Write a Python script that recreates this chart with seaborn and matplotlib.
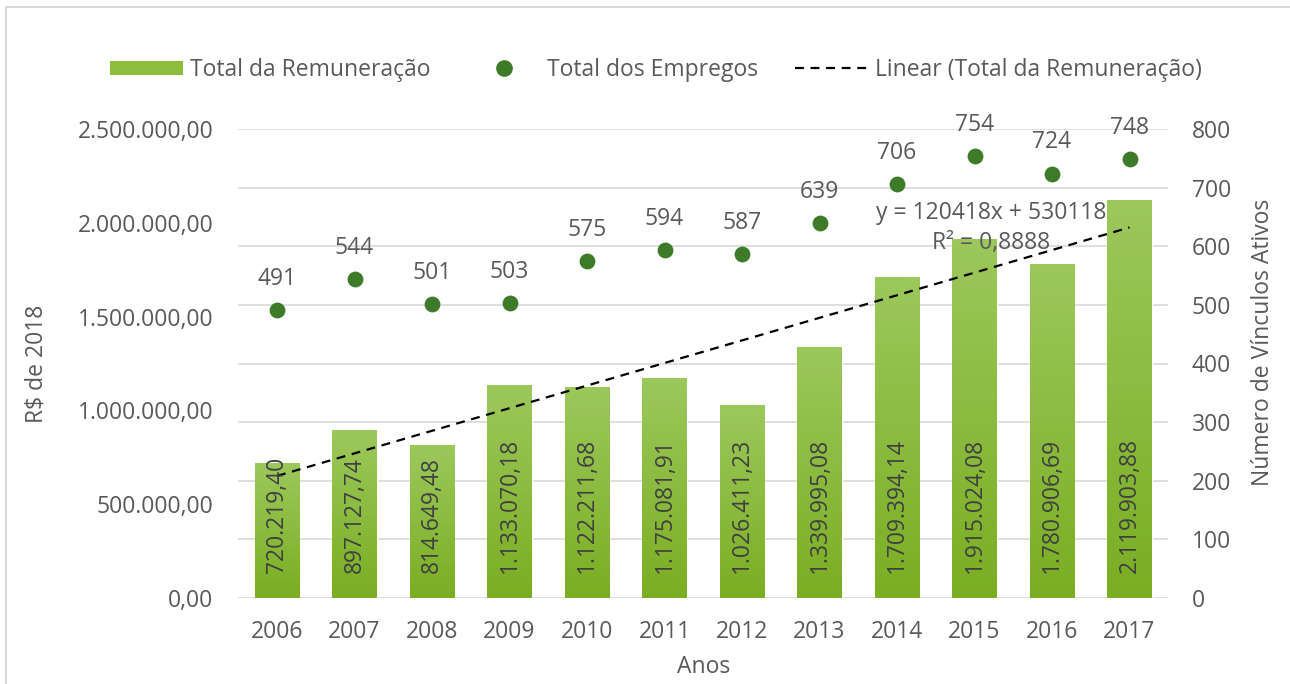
import numpy as np
import pandas as pd
import matplotlib
matplotlib.use("Agg")
import matplotlib.pyplot as plt
from matplotlib.ticker import MultipleLocator, FuncFormatter
from matplotlib.lines import Line2D
from matplotlib.patches import Patch
from matplotlib.colors import LinearSegmentedColormap
import seaborn as sns

# ---- data ----
anos = ["2006", "2007", "2008", "2009", "2010", "2011", "2012", "2013", "2014", "2015", "2016", "2017"]
remuneracao = [720219.40, 897127.74, 814649.48, 1133070.18, 1122211.68, 1175081.91,
               1026411.23, 1339995.08, 1709394.14, 1915024.08, 1780906.69, 2119903.88]
empregos = [491, 544, 501, 503, 575, 594, 587, 639, 706, 754, 724, 748]
remun_labels = ["720.219,40", "897.127,74", "814.649,48", "1.133.070,18", "1.122.211,68",
                "1.175.081,91", "1.026.411,23", "1.339.995,08", "1.709.394,14",
                "1.915.024,08", "1.780.906,69", "2.119.903,88"]
equation_text = "y = 120418x + 530118\nR² = 0,8888"

sns.set_theme(style="white")
plt.rcParams["font.family"] = ["Open Sans", "DejaVu Sans"]

TXT = "#595959"
GRID = "#d9d9d9"
BAR_TOP = "#9cc85c"
BAR_BOT = "#7aae22"
DOT = "#3d7b29"
FS = 16.5

df = pd.DataFrame({"Ano": anos, "Remuneracao": remuneracao, "Empregos": empregos})

fig = plt.figure(figsize=(12.9, 6.84), dpi=100)
W, H = 1290, 684
ax_l, ax_r, ax_t, ax_b = 238.25, 1168.25, 129, 598
ax = fig.add_axes([ax_l / W, (H - ax_b) / H, (ax_r - ax_l) / W, (ax_b - ax_t) / H])

sns.barplot(data=df, x="Ano", y="Remuneracao", color=BAR_BOT, saturation=1,
            width=0.58, ax=ax, zorder=2)

# gradient fill of the bars
cmap = LinearSegmentedColormap.from_list("g", [BAR_BOT, BAR_TOP])
grad = np.linspace(0, 1, 256).reshape(-1, 1)
for p in list(ax.patches):
    x0, y0 = p.get_x(), p.get_y()
    w, h = p.get_width(), p.get_height()
    im = ax.imshow(grad, extent=[x0, x0 + w, y0, y0 + h], origin="lower",
                   aspect="auto", cmap=cmap, zorder=2.1, interpolation="bilinear")
    im.set_clip_path(p)

ax.set_xlim(-0.5, len(anos) - 0.5)
ax.set_ylim(0, 2500000)
ax.yaxis.set_major_locator(MultipleLocator(500000))
ax.yaxis.set_minor_locator(MultipleLocator(312500))
ax.yaxis.remove_overlapping_locs = False
ax.yaxis.set_major_formatter(FuncFormatter(
    lambda v, _: f"{v:,.2f}".replace(",", "X").replace(".", ",").replace("X", ".")))
ax.grid(which="minor", axis="y", color=GRID, linewidth=1.2, zorder=0)
ax.grid(which="major", axis="y", visible=False)
ax.set_axisbelow(True)
for s in ax.spines.values():
    s.set_visible(False)
ax.tick_params(axis="both", which="both", length=0, labelsize=FS, colors=TXT)
ax.tick_params(axis="y", pad=18)
ax.tick_params(axis="x", pad=15.5)

# bar value labels
for i, lab in enumerate(remun_labels):
    ax.annotate(lab, xy=(i, 0), xytext=(0, 18), textcoords="offset points",
                rotation=90, ha="center", va="bottom", fontsize=FS, color="#404040",
                zorder=5)

# linear trend
xs = np.arange(1, len(anos) + 1)
slope, intercept = np.polyfit(xs, remuneracao, 1)
ax.plot(np.arange(len(anos)), slope * xs + intercept, color="black",
        linestyle=(0, (4, 3)), linewidth=1.6, zorder=4)
ax.text(9.21, 1972000, equation_text, ha="center", va="center", multialignment="center",
        fontsize=FS, color=TXT, linespacing=1.3, zorder=5)

ax.set_xlabel("Anos", fontsize=FS, color=TXT)
ax.set_ylabel("R$ de 2018", fontsize=FS, color=TXT)
ax.xaxis.set_label_coords(0.5, -0.122)
ax.yaxis.set_label_coords(-0.204, 0.5)

# secondary axis
ax2 = ax.twinx()
sns.scatterplot(x=np.arange(len(anos)), y=empregos, color=DOT, s=130, edgecolor=DOT,
                linewidth=0, ax=ax2, zorder=3)
ax2.set_ylim(0, 800)
ax2.yaxis.set_major_locator(MultipleLocator(100))
for s in ax2.spines.values():
    s.set_visible(False)
ax2.tick_params(axis="y", length=0, labelsize=FS, colors=TXT, pad=17)
ax2.grid(False)
ax2.set_ylabel("Número de Vínculos Ativos", fontsize=FS, color=TXT)
ax2.yaxis.set_label_coords(1.089, 0.546)
for i, v in enumerate(empregos):
    ax2.annotate(str(v), xy=(i, v), xytext=(0, 22.5), textcoords="offset points",
                 ha="center", va="center", fontsize=FS, color=TXT)

# legend
handles = [
    Patch(facecolor="#8cbd3c", edgecolor="none"),
    Line2D([], [], marker="o", linestyle="none", markersize=11, color=DOT),
    Line2D([], [], color="black", linestyle=(0, (4, 3)), linewidth=1.6),
]
labels = ["Total da Remuneração", "Total dos Empregos", "Linear (Total da Remuneração)"]
leg = fig.legend(handles, labels, loc="center", bbox_to_anchor=(0.5085, (H - 70) / H),
                 ncol=3, frameon=False, fontsize=FS, handlelength=3.2,
                 handletextpad=0.3, columnspacing=1.6, handleheight=0.6)
for t in leg.get_texts():
    t.set_color(TXT)

# outer frame
fig.add_artist(Line2D([6 / W, 6 / W], [0, 1 - 7 / H], transform=fig.transFigure,
                      color=GRID, linewidth=1.5))
fig.add_artist(Line2D([6 / W, 1], [1 - 7 / H, 1 - 7 / H], transform=fig.transFigure,
                      color=GRID, linewidth=1.5))

fig.savefig("out.png", dpi=100)
